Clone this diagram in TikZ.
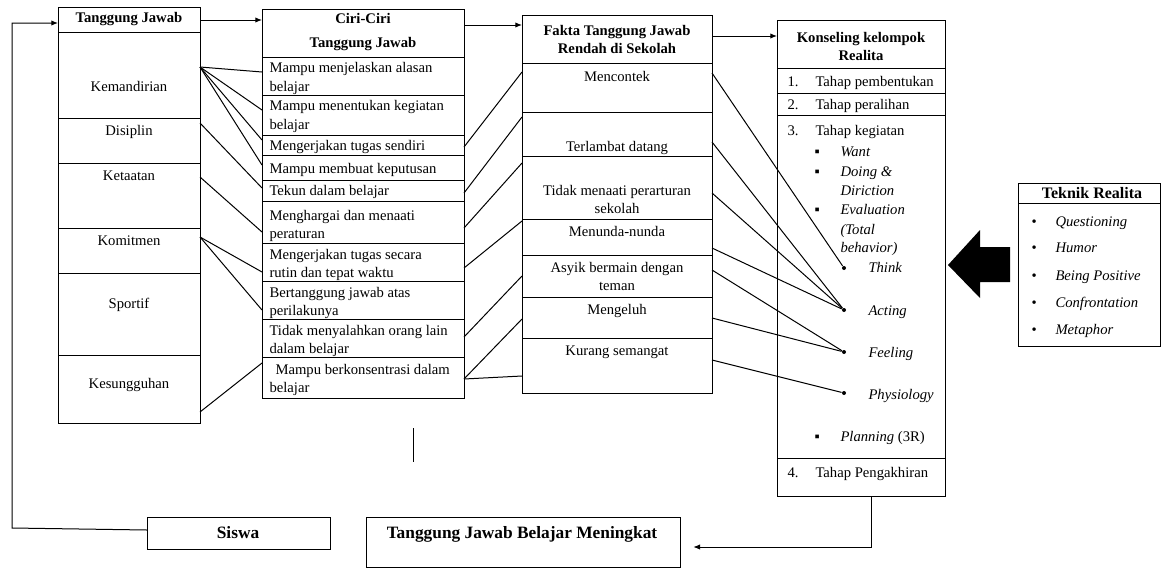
\documentclass[tikz,border=0pt]{standalone}
\usepackage{fontspec}
\setmainfont{Liberation Serif}
\usetikzlibrary{arrows.meta}
\tikzset{every picture/.style={line width=0.75pt}}
\tikzset{
  txt/.style={inner sep=0pt, font=\fontsize{11}{14}\selectfont},
  itx/.style={inner sep=0pt, font=\fontsize{11}{14}\selectfont\itshape},
  ttl/.style={inner sep=0pt, font=\fontsize{11}{14}\selectfont\bfseries},
  bigttl/.style={inner sep=0pt, font=\fontsize{13}{16}\selectfont\bfseries},
  bulletdot/.style={circle, fill, inner sep=0pt, minimum size=3pt},
  flow/.style={-{Latex[length=5pt,width=4pt]}},
}

\begin{document}
\begin{tikzpicture}[x=0.75pt,y=0.75pt,yscale=-1,xscale=1]
\useasboundingbox (0,0) rectangle (1161,568);

%Shape: Rectangle - Tanggung Jawab
\draw (58,7) rectangle (200,32);
\draw (58,32) rectangle (200,118);
\draw (58,118) rectangle (200,163);
\draw (58,163) rectangle (200,228);
\draw (58,228) rectangle (200,273);
\draw (58,273) rectangle (200,355);
\draw (58,355) rectangle (200,423);
%Shape: Rectangle - Ciri-Ciri
\draw (262,9) rectangle (464,57);
\draw (262,57) rectangle (464,95);
\draw (262,95) rectangle (464,135);
\draw (262,135) rectangle (464,155);
\draw (262,155) rectangle (464,180);
\draw (262,180) rectangle (464,201);
\draw (262,201) rectangle (464,243);
\draw (262,243) rectangle (464,281);
\draw (262,281) rectangle (464,319);
\draw (262,319) rectangle (464,357);
\draw (262,357) rectangle (464,398);
%Shape: Rectangle - Fakta
\draw (522,15) rectangle (712,63);
\draw (522,63) rectangle (712,112);
\draw (522,112) rectangle (712,156);
\draw (522,156) rectangle (712,219);
\draw (522,219) rectangle (712,255);
\draw (522,255) rectangle (712,297);
\draw (522,297) rectangle (712,338);
\draw (522,338) rectangle (712,393);
%Shape: Rectangle - Konseling
\draw (777,20) rectangle (945,68);
\draw (777,68) rectangle (945,93);
\draw (777,93) rectangle (945,115);
\draw (777,115) rectangle (945,458);
\draw (777,458) rectangle (945,496);
%Shape: Rectangle - Teknik Realita
\draw (1018,183) rectangle (1160,203);
\draw (1018,203) rectangle (1160,346);
%Shape: Rectangle - bottom boxes
\draw (147,517) rectangle (330,549);
\draw (366,517) rectangle (680,567);
%Shape: Left Arrow
\fill (948,265) -- (980,230) -- (980,247) -- (1010,247) -- (1010,282) -- (980,282) -- (980,298) -- cycle;
%Straight Lines
\draw (413,428) -- (413,462);

% Text Node - Tanggung Jawab
\node [ttl, anchor=base] (tjTitle) at (129,22) {Tanggung Jawab};
\node [txt, anchor=base] (kem) at (129,91) {Kemandirian};
\node [txt, anchor=base] (dis) at (129,135) {Disiplin};
\node [txt, anchor=base] (ket) at (129,180) {Ketaatan};
\node [txt, anchor=base] (kom) at (129,245) {Komitmen};
\node [txt, anchor=base] (spo) at (129,308) {Sportif};
\node [txt, anchor=base] (kes) at (129,388) {Kesungguhan};

% Text Node - Ciri-Ciri
\node [ttl, anchor=base] (ciriTitle) at (363,23) {Ciri-Ciri};
\node [ttl, anchor=base] (ciriTitleb) at (363,47) {Tanggung Jawab};
\node [txt, anchor=base west] (ciri1) at (269,72) {Mampu menjelaskan alasan};
\node [txt, anchor=base west] (ciri1b) at (269,91) {belajar};
\node [txt, anchor=base west] (ciri2) at (269,110) {Mampu menentukan kegiatan};
\node [txt, anchor=base west] (ciri2b) at (269,129) {belajar};
\node [txt, anchor=base west] (ciri3) at (269,150) {Mengerjakan tugas sendiri};
\node [txt, anchor=base west] (ciri4) at (269,173) {Mampu membuat keputusan};
\node [txt, anchor=base west] (ciri5) at (269,195) {Tekun dalam belajar};
\node [txt, anchor=base west] (ciri6) at (269,220) {Menghargai dan menaati};
\node [txt, anchor=base west] (ciri6b) at (269,238) {peraturan};
\node [txt, anchor=base west] (ciri7) at (269,259) {Mengerjakan tugas secara};
\node [txt, anchor=base west] (ciri7b) at (269,277) {rutin dan tepat waktu};
\node [txt, anchor=base west] (ciri8) at (269,297) {Bertanggung jawab atas};
\node [txt, anchor=base west] (ciri8b) at (269,315) {perilakunya};
\node [txt, anchor=base west] (ciri9) at (269,335) {Tidak menyalahkan orang lain};
\node [txt, anchor=base west] (ciri9b) at (269,353) {dalam belajar};
\node [txt, anchor=base west] (ciri10) at (275,374) {Mampu berkonsentrasi dalam};
\node [txt, anchor=base west] (ciri10b) at (269,392) {belajar};

% Text Node - Fakta
\node [ttl, anchor=base] (faktaTitle) at (617,35) {Fakta Tanggung Jawab};
\node [ttl, anchor=base] (faktaTitleb) at (617,53) {Rendah di Sekolah};
\node [txt, anchor=base] (fakta1) at (617,81) {Mencontek};
\node [txt, anchor=base] (fakta2) at (617,151) {Terlambat datang};
\node [txt, anchor=base] (fakta3) at (617,195) {Tidak menaati perarturan};
\node [txt, anchor=base] (fakta3b) at (617,213) {sekolah};
\node [txt, anchor=base] (fakta4) at (617,236) {Menunda-nunda};
\node [txt, anchor=base] (fakta5) at (617,272) {Asyik bermain dengan};
\node [txt, anchor=base] (fakta5b) at (617,290) {teman};
\node [txt, anchor=base] (fakta6) at (617,314) {Mengeluh};
\node [txt, anchor=base] (fakta7) at (617,355) {Kurang semangat};

% Text Node - Konseling
\node [ttl, anchor=base] (konTitle) at (861,42) {Konseling kelompok};
\node [ttl, anchor=base] (konTitleb) at (861,60) {Realita};
\node [txt, anchor=base west] (num1) at (787,86) {1.};
\node [txt, anchor=base west] (tahap1) at (815,86) {Tahap pembentukan};
\node [txt, anchor=base west] (num2) at (787,109) {2.};
\node [txt, anchor=base west] (tahap2) at (815,109) {Tahap peralihan};
\node [txt, anchor=base west] (num3) at (787,135) {3.};
\node [txt, anchor=base west] (tahap3) at (815,135) {Tahap kegiatan};
\node [txt, anchor=base west] (sqWant) at (814,156) {▪};
\node [itx, anchor=base west] (want) at (840,156) {Want};
\node [txt, anchor=base west] (sqDoing) at (814,176) {▪};
\node [itx, anchor=base west] (doing) at (840,176) {Doing \&};
\node [itx, anchor=base west] (doingb) at (840,195) {Diriction};
\node [txt, anchor=base west] (sqEval) at (814,214) {▪};
\node [itx, anchor=base west] (eval) at (840,214) {Evaluation};
\node [itx, anchor=base west] (evalb) at (840,234) {(Total};
\node [itx, anchor=base west] (evalc) at (840,252) {behavior)};
\node [bulletdot] (think) at (844,268) {};
\node [itx, anchor=base west] (thinkTxt) at (868,272) {Think};
\node [bulletdot] (acting) at (844,310) {};
\node [itx, anchor=base west] (actingTxt) at (868,315) {Acting};
\node [bulletdot] (feeling) at (844,352) {};
\node [itx, anchor=base west] (feelingTxt) at (868,357) {Feeling};
\node [bulletdot] (physio) at (844,393) {};
\node [itx, anchor=base west] (physioTxt) at (868,399) {Physiology};
\node [txt, anchor=base west] (sqPlan) at (814,441) {▪};
\node [txt, anchor=base west] (plan) at (840,441) {\textit{Planning} (3R)};
\node [txt, anchor=base west] (num4) at (787,477) {4.};
\node [txt, anchor=base west] (tahap4) at (815,477) {Tahap Pengakhiran};

% Text Node - Teknik Realita
\node [bigttl, font=\fontsize{12}{14}\selectfont\bfseries, anchor=base] (teknikTitle) at (1092,198) {Teknik Realita};
\node [txt, anchor=base west] (bq) at (1031,226) {•};
\node [itx, anchor=base west] (quest) at (1055,226) {Questioning};
\node [txt, anchor=base west] (bh) at (1031,252) {•};
\node [itx, anchor=base west] (humor) at (1055,252) {Humor};
\node [txt, anchor=base west] (bb) at (1031,280) {•};
\node [itx, anchor=base west] (positive) at (1055,280) {Being Positive};
\node [txt, anchor=base west] (bc) at (1031,307) {•};
\node [itx, anchor=base west] (confront) at (1055,307) {Confrontation};
\node [txt, anchor=base west] (bm) at (1031,334) {•};
\node [itx, anchor=base west] (metaphor) at (1055,334) {Metaphor};

% Text Node - bottom
\node [bigttl, anchor=base] (siswa) at (238,538) {Siswa};
\node [bigttl, anchor=base] (meningkat) at (522,538) {Tanggung Jawab Belajar Meningkat};

%Connector ends
\coordinate (tjR) at (200,20);   \coordinate (ciriTL) at (262,20);
\coordinate (ciriTR) at (464,25); \coordinate (faktaTL) at (522,25);
\coordinate (faktaTR) at (712,36); \coordinate (konTL) at (777,36);
\coordinate (kemR) at (200,67);
\coordinate (disR) at (200,123);
\coordinate (ketR) at (200,177);
\coordinate (komR) at (200,237);
\coordinate (kesR) at (200,412);
\coordinate (ciriL1) at (262,72);
\coordinate (ciriL2) at (262,110);
\coordinate (ciriL3) at (262,140);
\coordinate (ciriL4) at (262,165);
\coordinate (ciriL5) at (262,188);
\coordinate (ciriL6) at (262,232);
\coordinate (ciriL7) at (262,272);
\coordinate (ciriL8) at (262,310);
\coordinate (ciriL10) at (262,363);
\coordinate (ciriR3) at (464,147);
\coordinate (ciriR5) at (464,193);
\coordinate (ciriR6) at (464,228);
\coordinate (ciriR7) at (464,268);
\coordinate (ciriR9) at (464,337);
\coordinate (ciriR10) at (464,379);
\coordinate (faktaL1) at (522,72);
\coordinate (faktaL2) at (522,117);
\coordinate (faktaL3) at (522,163);
\coordinate (faktaL4) at (522,221);
\coordinate (faktaL5) at (522,276);
\coordinate (faktaL6) at (522,319);
\coordinate (faktaL7) at (522,376);
\coordinate (faktaR1) at (712,73);
\coordinate (faktaR2) at (712,142);
\coordinate (faktaR3) at (712,193);
\coordinate (faktaR4) at (712,248);
\coordinate (faktaR5) at (712,270);
\coordinate (faktaR6) at (712,318);
\coordinate (faktaR7) at (712,360);
\coordinate (konB) at (871,496);
\coordinate (meningkatR) at (680,547);
\coordinate (siswaL) at (147,530);
\coordinate (tjL) at (58,23);

%Straight Lines - title arrows
\draw [flow] (tjR) -- (ciriTL);
\draw [flow] (ciriTR) -- (faktaTL);
\draw [flow] (faktaTR) -- (konTL);
%Straight Lines - Tanggung Jawab to Ciri-Ciri
\draw (kemR) -- (ciriL1);
\draw (kemR) -- (ciriL2);
\draw (kemR) -- (ciriL3);
\draw (kemR) -- (ciriL4);
\draw (disR) -- (ciriL5);
\draw (ketR) -- (ciriL6);
\draw (komR) -- (ciriL7);
\draw (komR) -- (ciriL8);
\draw (kesR) -- (ciriL10);
%Straight Lines - Ciri-Ciri to Fakta
\draw (ciriR3) -- (faktaL1);
\draw (ciriR5) -- (faktaL2);
\draw (ciriR6) -- (faktaL3);
\draw (ciriR7) -- (faktaL4);
\draw (ciriR9) -- (faktaL5);
\draw (ciriR10) -- (faktaL6);
\draw (ciriR10) -- (faktaL7);
%Straight Lines - Fakta to total behavior
\draw (faktaR1) -- (think);
\draw (faktaR2) -- (acting);
\draw (faktaR3) -- (acting);
\draw (faktaR4) -- (acting);
\draw (faktaR5) -- (feeling);
\draw (faktaR6) -- (feeling);
\draw (faktaR7) -- (physio);
%Straight Lines - feedback
\draw [flow] (konB) |- ([xshift=10]meningkatR);
\draw [flow] (siswaL) -- (12,528) |- (tjL);
\end{tikzpicture}
\end{document}
